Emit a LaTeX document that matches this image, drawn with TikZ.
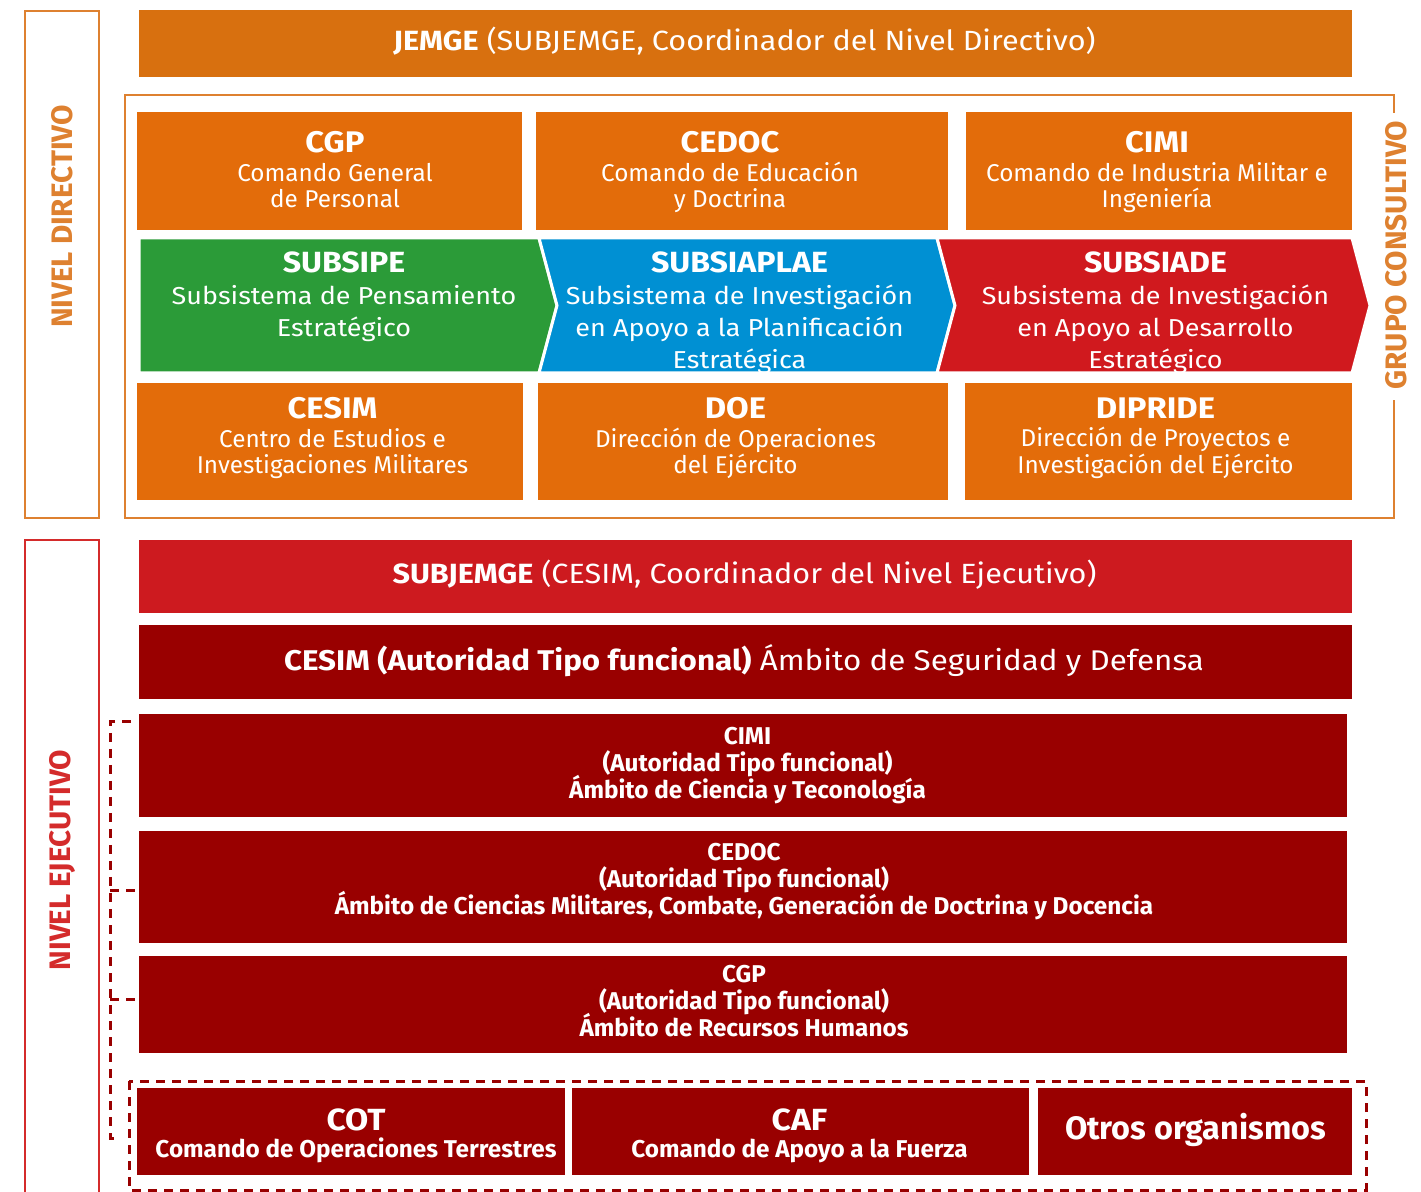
\documentclass[tikz,border=0pt]{standalone}
\usepackage{fontspec}
\setmainfont{Fira Sans}
\newfontfamily\widesans{Fira Sans}[FakeStretch=1.1]
\usetikzlibrary{fit}

\definecolor{jemgeorange}{HTML}{D8700F}
\definecolor{boxorange}{HTML}{E36C0A}
\definecolor{frameorange}{HTML}{DE8130}
\definecolor{chevgreen}{HTML}{2B9B38}
\definecolor{chevblue}{HTML}{0090D3}
\definecolor{chevred}{HTML}{D0191E}
\definecolor{execred}{HTML}{CD1A1F}
\definecolor{execdark}{HTML}{990000}
\definecolor{execframe}{HTML}{D42B2B}

\newcommand{\boxtitle}[1]{{\widesans\fontsize{14.9}{14}\selectfont\bfseries #1}}
\newcommand{\chevtitle}[1]{{\widesans\fontsize{14.6}{14}\selectfont\bfseries #1}}
\newcommand{\tightlines}{\lineskiplimit=-20pt\relax}

\begin{document}
\begin{tikzpicture}[x=0.5pt, y=-0.5pt,
  fillbox/.style={inner sep=0pt, outer sep=0pt},
  boxtext/.style={inner sep=0pt, align=center, text=white},
  dirsub/.style={boxtext, anchor=north, font=\fontsize{12.15}{13.3}\selectfont\tightlines},
  chevsub/.style={boxtext, anchor=north, font=\widesans\fontsize{12.25}{16}\selectfont\tightlines},
  execsub/.style={boxtext, anchor=north, font=\fontsize{12.15}{13.5}\selectfont\bfseries\tightlines},
  bartext/.style={boxtext, font=\widesans\fontsize{13.9}{16}\selectfont},
  sidelabel/.style={font=\fontsize{14.8}{14.8}\selectfont\bfseries, rotate=90, inner sep=0pt},
  chevron/.style={draw=white, line width=1.5pt},
  bracket/.style={draw=execdark, line width=1.5pt, dash pattern=on 4.5pt off 3.5pt}]

\useasboundingbox (0,0) rectangle (1421,1192);

%% nivel directivo
\draw[frameorange, line width=1pt] (25,11) rectangle (99,518);
\node[sidelabel, text=frameorange] (nivdir) at (62,216.5) {NIVEL DIRECTIVO};

\node[fit={(139,10) (1352,77)}, fill=jemgeorange, fillbox] (jemge) {};
\node[bartext] (jemgetxt) at (744.5,41) {\textbf{JEMGE} (SUBJEMGE, Coordinador del Nivel Directivo)};

% grupo consultivo
\draw[frameorange, line width=1pt] (1394,113) -- (1394,95) -- (125,95)
  -- (125,518) -- (1394,518) -- (1394,400);
\node[sidelabel, text=frameorange] (grupo) at (1396,255) {GRUPO CONSULTIVO};

% first row
\node[fit={(137,112) (522,230)}, fill=boxorange, fillbox] (cgp) {};
\node[fit={(536,112) (948,230)}, fill=boxorange, fillbox] (cedoc) {};
\node[fit={(966,112) (1352,230)}, fill=boxorange, fillbox] (cimi) {};
\node[dirsub] (cgptxt) at (335,131) {\boxtitle{CGP}\\[1pt]Comando General\\de Personal};
\node[dirsub] (cedoctxt) at (730,131) {\boxtitle{CEDOC}\\[1pt]Comando de Educación\\y Doctrina};
\node[dirsub] (cimitxt) at (1157,131) {\boxtitle{CIMI}\\[1pt]Comando de Industria Militar e\\Ingeniería};

% subsistemas
\filldraw[chevron, fill=chevgreen] (139,238) -- (539,238) -- (557,305.5)
  -- (539,373) -- (139,373) -- cycle;
\filldraw[chevron, fill=chevblue] (539,238) -- (937,238) -- (955,305.5)
  -- (937,373) -- (539,373) -- (557,305.5) -- cycle;
\filldraw[chevron, fill=chevred] (937,238) -- (1352,238) -- (1370,305.5)
  -- (1352,373) -- (937,373) -- (955,305.5) -- cycle;
\node[chevsub] (subsipe) at (344,251) {\chevtitle{SUBSIPE}\\Subsistema de Pensamiento\\Estratégico};
\node[chevsub] (subsiaplae) at (739.5,251) {\chevtitle{SUBSIAPLAE}\\Subsistema de Investigación\\en Apoyo a la Planificación\\Estratégica};
\node[chevsub] (subsiade) at (1155.5,251) {\chevtitle{SUBSIADE}\\Subsistema de Investigación\\en Apoyo al Desarrollo\\Estratégico};

% third row
\node[fit={(137,383) (523,500)}, fill=boxorange, fillbox] (cesim) {};
\node[fit={(538,383) (948,500)}, fill=boxorange, fillbox] (doe) {};
\node[fit={(965,383) (1352,500)}, fill=boxorange, fillbox] (dipride) {};
\node[dirsub] (cesimtxt) at (332.5,397) {\boxtitle{CESIM}\\[1pt]Centro de Estudios e\\Investigaciones Militares};
\node[dirsub] (doetxt) at (735.5,397) {\boxtitle{DOE}\\[1pt]Dirección de Operaciones\\del Ejército};
\node[dirsub] (dipridetxt) at (1155.5,397) {\boxtitle{DIPRIDE}\\[1pt]Dirección de Proyectos e\\Investigación del Ejército};

%% nivel ejecutivo
\draw[execframe, line width=1pt] (25,1200) -- (25,540) -- (99,540) -- (99,1200);
\node[sidelabel, text=execframe] (nivejec) at (62,860) {NIVEL EJECUTIVO};

\node[fit={(139,540) (1352,613)}, fill=execred, fillbox] (subjemge) {};
\node[bartext] (subjemgetxt) at (744.5,575) {\textbf{SUBJEMGE} (CESIM, Coordinador del Nivel Ejecutivo)};

\node[fit={(139,625) (1352,699)}, fill=execdark, fillbox] (cesimbar) {};
\node[bartext, font=\widesans\fontsize{14.25}{16}\selectfont] (cesimbartxt) at (744,661) {\textbf{CESIM (Autoridad Tipo funcional)} Ámbito de Seguridad y Defensa};

\node[fit={(139,714) (1347,817)}, fill=execdark, fillbox] (cimiex) {};
\node[fit={(139,831) (1347,943)}, fill=execdark, fillbox] (cedocex) {};
\node[fit={(139,956) (1347,1053)}, fill=execdark, fillbox] (cgpex) {};
\node[execsub] (cimiextxt) at (747.5,727) {CIMI\\(Autoridad Tipo funcional)\\Ámbito de Ciencia y Teconología};
\node[execsub] (cedocextxt) at (744,843) {CEDOC\\(Autoridad Tipo funcional)\\Ámbito de Ciencias Militares, Combate, Generación de Doctrina y Docencia};
\node[execsub] (cgpextxt) at (744,965) {CGP\\(Autoridad Tipo funcional)\\Ámbito de Recursos Humanos};

% coordination bracket
\coordinate (brktop) at (110,722);
\coordinate (brkbot) at (110,1138);
\coordinate (brkcedoc) at (110,891);
\coordinate (brkcgp) at (110,999);
\draw[bracket] (131,722) -- (brktop) -- (brkbot) -- (118,1138);
\draw[bracket] (brkcedoc) -- (brkcedoc -| cedocex.west);
\draw[bracket] (brkcgp) -- (brkcgp -| cgpex.west);

% bottom group
\draw[bracket] (129,1081) rectangle (1366,1190);
\node[fit={(137,1088) (565,1175)}, fill=execdark, fillbox] (cot) {};
\node[fit={(572,1088) (1029,1175)}, fill=execdark, fillbox] (caf) {};
\node[fit={(1038,1088) (1352,1175)}, fill=execdark, fillbox] (otros) {};
\node[execsub] (cottxt) at (356,1108) {{\widesans\fontsize{15.3}{15}\selectfont COT}\\Comando de Operaciones Terrestres};
\node[execsub] (caftxt) at (799.5,1108) {{\widesans\fontsize{15.3}{15}\selectfont CAF}\\Comando de Apoyo a la Fuerza};
\node[boxtext, font=\fontsize{16.2}{16.2}\selectfont\bfseries] (otrostxt) at (1195.5,1130) {Otros organismos};
\end{tikzpicture}
\end{document}
